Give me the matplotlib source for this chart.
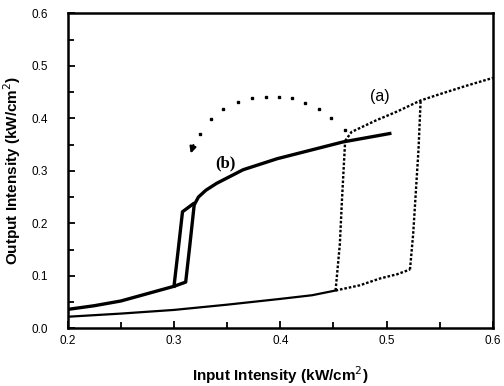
import matplotlib
matplotlib.use("Agg")
import matplotlib.pyplot as plt
from matplotlib.ticker import MultipleLocator

# Curve (b): bistable loop (solid, thick)
b_up_x = [0.200, 0.225, 0.250, 0.275, 0.300, 0.311, 0.315, 0.319, 0.323, 0.330, 0.340, 0.365, 0.397, 0.428, 0.459, 0.503]
b_up_y = [0.036, 0.043, 0.052, 0.066, 0.080, 0.088, 0.160, 0.235, 0.250, 0.263, 0.276, 0.302, 0.323, 0.339, 0.355, 0.371]
b_down_x = [0.318, 0.308, 0.304, 0.300]
b_down_y = [0.237, 0.222, 0.150, 0.080]

# Curve (a): lower solid branch
a_low_x = [0.200, 0.250, 0.300, 0.350, 0.400, 0.430, 0.452]
a_low_y = [0.022, 0.028, 0.035, 0.045, 0.056, 0.063, 0.072]
# Curve (a): dotted parts
a_dot_low_x = [0.452, 0.475, 0.494, 0.510, 0.522]
a_dot_low_y = [0.072, 0.082, 0.095, 0.103, 0.112]
a_right_x = [0.522, 0.525, 0.527, 0.530, 0.532]
a_right_y = [0.112, 0.180, 0.244, 0.340, 0.434]
a_left_x = [0.452, 0.456, 0.458, 0.461]
a_left_y = [0.072, 0.160, 0.244, 0.357]
a_up_x = [0.461, 0.467, 0.490, 0.510, 0.532, 0.550, 0.575, 0.600]
a_up_y = [0.357, 0.374, 0.396, 0.413, 0.434, 0.446, 0.462, 0.477]

# Dotted arc (arrow from (a) to (b))
arc_x = [0.461, 0.448, 0.436, 0.423, 0.411, 0.399, 0.387, 0.373, 0.360, 0.3465, 0.3346, 0.324]
arc_y = [0.378, 0.400, 0.418, 0.430, 0.438, 0.441, 0.441, 0.439, 0.432, 0.417, 0.398, 0.371]

x_ticks = [0.2, 0.3, 0.4, 0.5, 0.6]
y_ticks = [0.0, 0.1, 0.2, 0.3, 0.4, 0.5, 0.6]

fig = plt.figure(figsize=(5.04, 3.86), dpi=100)
ax = fig.add_axes([0.1343, 0.1495, 0.8437, 0.816])

ax.plot(b_up_x, b_up_y, color='black', lw=2.4, solid_joinstyle='round')
ax.plot(b_down_x, b_down_y, color='black', lw=2.4, solid_joinstyle='round')
ax.plot(a_low_x, a_low_y, color='black', lw=1.6)
dot = (0, (1.1, 0.8))
for xs, ys in [(a_dot_low_x, a_dot_low_y), (a_right_x, a_right_y),
               (a_left_x, a_left_y), (a_up_x, a_up_y)]:
    ax.plot(xs, ys, color='black', lw=1.7, linestyle=dot)

ax.plot(arc_x, arc_y, linestyle='none', marker='s', ms=2.0, color='black')
ax.annotate('', xy=(0.315, 0.328), xytext=(0.319, 0.354),
            arrowprops=dict(arrowstyle='-|>', color='black', lw=1.6,
                            mutation_scale=9))

ax.text(0.494, 0.441, '(a)', fontsize=11.5, family='Liberation Sans',
        ha='center', va='center')
ax.text(0.348, 0.314, '(b)', fontsize=12, family='Liberation Serif',
        fontweight='bold', ha='center', va='center')

ax.set_xlim(0.2, 0.6)
ax.set_ylim(0.0, 0.6)
ax.set_xticks(x_ticks)
ax.set_yticks(y_ticks)
ax.set_xticklabels([f'{v:.1f}' for v in x_ticks])
ax.set_yticklabels([f'{v:.1f}' for v in y_ticks])
ax.xaxis.set_minor_locator(MultipleLocator(0.05))
ax.yaxis.set_minor_locator(MultipleLocator(0.05))
ax.tick_params(which='both', direction='in', top=False, right=False,
               labelsize=8.5, width=1.3)
ax.tick_params(which='major', length=5)
ax.tick_params(which='minor', length=4)
ax.tick_params(axis='y', pad=14)
ax.tick_params(axis='x', pad=5)
for lab in ax.get_xticklabels() + ax.get_yticklabels():
    lab.set_family('Liberation Sans')
for s in ax.spines.values():
    s.set_linewidth(1.8)

ax.set_xlabel('Input Intensity (kW/cm$^2$)', fontsize=11, fontweight='bold',
              family='Liberation Sans', labelpad=12)
ax.set_ylabel('Output Intensity (kW/cm$^2$)', fontsize=11, fontweight='bold',
              family='Liberation Sans', labelpad=6)

fig.savefig('out.png', dpi=100)
